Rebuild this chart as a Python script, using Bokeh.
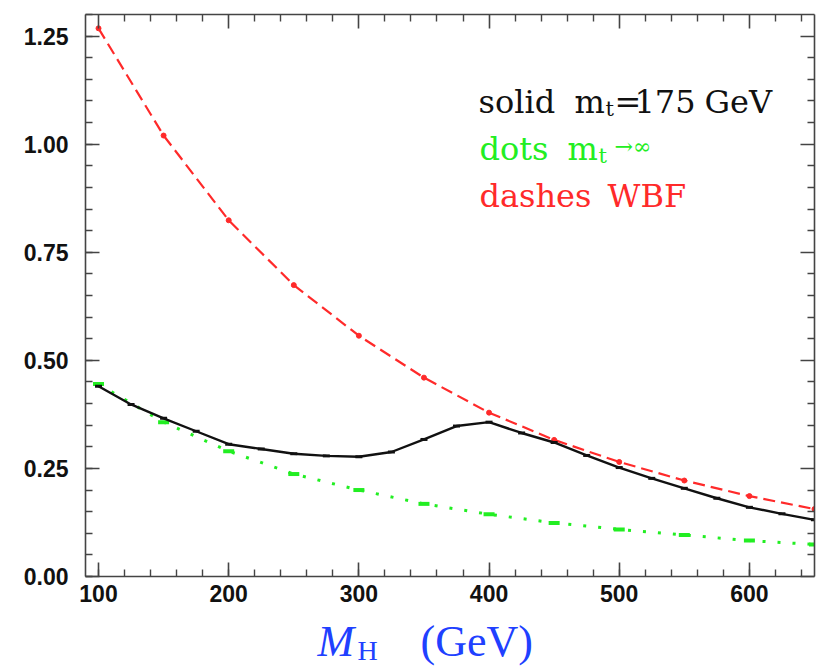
from bokeh.plotting import figure
from bokeh.layouts import column
from bokeh.models import (Range1d, LinearAxis, SingleIntervalTicker, FixedTicker, Label,
                          NumeralTickFormatter)
from bokeh.embed import file_html
from bokeh.resources import INLINE

# ---- data ----
mh_solid = [100, 125, 150, 175, 200, 225, 250, 275, 300, 325, 350, 375, 400,
            425, 450, 475, 500, 525, 550, 575, 600, 625, 650]
k_solid = [0.440, 0.398, 0.366, 0.336, 0.306, 0.295, 0.284, 0.279, 0.277, 0.288,
           0.317, 0.348, 0.357, 0.332, 0.310, 0.280, 0.252, 0.227, 0.204, 0.181,
           0.160, 0.145, 0.131]
mh_dots = [100, 150, 200, 250, 300, 350, 400, 450, 500, 550, 600, 650]
k_dots = [0.445, 0.357, 0.290, 0.237, 0.200, 0.168, 0.144, 0.124, 0.109, 0.096, 0.083, 0.074]
mh_wbf = [100, 150, 200, 250, 300, 350, 400, 450, 500, 550, 600, 650]
k_wbf = [1.268, 1.020, 0.824, 0.674, 0.557, 0.460, 0.379, 0.316, 0.265, 0.222, 0.186, 0.156]

x_major = [100, 200, 300, 400, 500, 600]
x_minor = [120, 140, 160, 180, 220, 240, 260, 280, 320, 340, 360, 380,
           420, 440, 460, 480, 520, 540, 560, 580, 620, 640]
y_major = [0.0, 0.25, 0.5, 0.75, 1.0, 1.25]
y_minor = [0.05, 0.10, 0.15, 0.20, 0.30, 0.35, 0.40, 0.45, 0.55, 0.60, 0.65, 0.70,
           0.80, 0.85, 0.90, 0.95, 1.05, 1.10, 1.15, 1.20]

x_start, x_end = 90, 650
y_start, y_end = 0.0, 1.3

BLACK = "#111111"
GREEN = "#22ee22"
RED = "#ff2a2a"
BLUE = "#2040ff"
AX = "#444444"

FR_L, FR_T, FR_R, FR_B = 85, 14, 814, 576   # frame edges in page pixels
W = 816
H_MAIN = 614
YFIX = 12   # labels render this much lower than their nominal baseline

p = figure(width=W, height=H_MAIN, output_backend="svg", toolbar_location=None,
           x_range=Range1d(x_start, x_end), y_range=Range1d(y_start, y_end),
           x_axis_location=None, y_axis_location=None,
           min_border_left=FR_L, min_border_right=W - FR_R, min_border_top=FR_T,
           min_border_bottom=H_MAIN - FR_B)
p.grid.visible = False
p.outline_line_color = None


def style(ax):
    ax.axis_line_color = AX
    ax.axis_line_width = 1.6
    ax.major_tick_line_color = AX
    ax.major_tick_line_width = 1.6
    ax.minor_tick_line_color = AX
    ax.minor_tick_line_width = 1.4
    ax.major_tick_out = 0
    ax.minor_tick_out = 0
    return ax


# labelled axes (bottom, left)
xb = style(LinearAxis(ticker=SingleIntervalTicker(interval=100, num_minor_ticks=5)))
yl = style(LinearAxis(ticker=SingleIntervalTicker(interval=0.25, num_minor_ticks=5),
                      formatter=NumeralTickFormatter(format="0.00")))
for ax, so in ((xb, 8), (yl, 17)):
    ax.major_tick_in = 14
    ax.minor_tick_in = 7
    ax.major_label_text_font = "Liberation Sans"
    ax.major_label_text_font_style = "bold"
    ax.major_label_text_font_size = "23px"
    ax.major_label_text_color = BLACK
    ax.major_label_standoff = so
p.add_layout(xb, "below")
p.add_layout(yl, "left")

# mirrored, unlabelled axes (top, right): tick marks only
for side, majors, minors in (("above", x_major, x_minor), ("right", y_major, y_minor)):
    a1 = style(LinearAxis(ticker=FixedTicker(ticks=[], minor_ticks=majors)))
    a1.minor_tick_in = 14
    a1.minor_tick_line_width = 1.6
    a2 = style(LinearAxis(ticker=FixedTicker(ticks=[], minor_ticks=minors)))
    a2.minor_tick_in = 7
    a2.axis_line_color = None
    p.add_layout(a1, side)
    p.add_layout(a2, side)

# ---- curves ----
p.line(mh_wbf, k_wbf, line_color=RED, line_width=2.2, line_dash="12 6")
p.scatter(mh_wbf, k_wbf, marker="circle", size=5, fill_color=RED, line_color=RED)

p.line(mh_dots, k_dots, line_color=GREEN, line_width=3, line_dash="3 12")
p.scatter(mh_dots, k_dots, marker="dash", size=11, line_color=GREEN, line_width=4)

p.line(mh_solid, k_solid, line_color=BLACK, line_width=2.4)
p.scatter(mh_solid, k_solid, marker="dash", size=7, line_color=BLACK, line_width=3)


# ---- legend texts (page pixel positions converted to data space) ----
def dx(px):
    return x_start + (px - FR_L) * (x_end - x_start) / (FR_R - FR_L)


def dy(py):
    return (FR_B - (py - YFIX)) * (y_end - y_start) / (FR_B - FR_T)


def lab(fig, x, y, text, color, size, font="DejaVu Serif", fstyle="normal"):
    fig.add_layout(Label(x=x, y=y, text=text, text_color=color,
                         text_font=font, text_font_size=size, text_font_style=fstyle,
                         text_baseline="alphabetic", text_align="left"))


LS = "32px"
SS = "21px"
lab(p, dx(478), dy(113), "solid", BLACK, LS)
lab(p, dx(574), dy(113), "m", BLACK, LS)
lab(p, dx(605), dy(120), "t", BLACK, SS)
lab(p, dx(614), dy(113), "=", BLACK, LS)
lab(p, dx(634), dy(113), "175", BLACK, LS)
lab(p, dx(704), dy(113), "GeV", BLACK, LS)

lab(p, dx(479), dy(160), "dots", GREEN, LS)
lab(p, dx(567), dy(160), "m", GREEN, LS)
lab(p, dx(598), dy(167), "t", GREEN, SS)
lab(p, dx(614), dy(158), "\u2192\u221e", GREEN, "22px")

lab(p, dx(479), dy(207), "dashes", RED, LS)
lab(p, dx(607), dy(207), "WBF", RED, LS)

# ---- x-axis title in a strip below the plot (page pixel space) ----
H_T = 668 - H_MAIN
t = figure(width=W, height=H_T, output_backend="svg", toolbar_location=None,
           x_range=Range1d(FR_L, FR_R), y_range=Range1d(0, H_T),
           x_axis_location=None, y_axis_location=None,
           min_border_left=FR_L, min_border_right=W - FR_R,
           min_border_top=0, min_border_bottom=0)
t.grid.visible = False
t.outline_line_color = None


def ty(py):
    return 668 - (py - YFIX)


lab(t, 317, ty(653), "M", BLUE, "44px", font="Liberation Serif", fstyle="italic")
lab(t, 357, ty(662), "H", BLUE, "28px", font="Liberation Serif")
lab(t, 420, ty(653), "(GeV)", BLUE, "44px", font="Liberation Serif")

layout = column(p, t, spacing=0)
open("out.html", "w").write(file_html(layout, INLINE))
